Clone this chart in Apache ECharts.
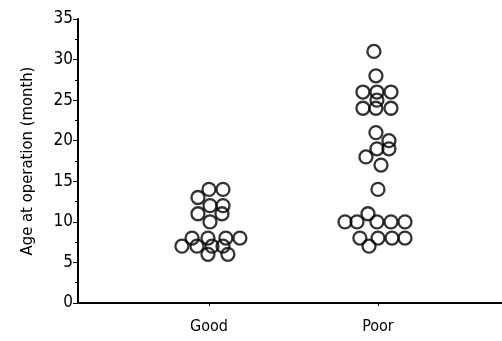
<!DOCTYPE html>
<html>
<head>
<meta charset="utf-8">
<script src="https://cdn.jsdelivr.net/npm/echarts@6/dist/echarts.min.js"></script>
<style>html,body{margin:0;padding:0;background:#fff}#c{width:502px;height:341px}</style>
</head>
<body>
<div id="c"></div>
<script>
var categories = ['Good', 'Poor'];
var goodValues = [14, 14, 13, 12, 12, 11, 11, 10, 8, 8, 8, 8, 7, 7, 7, 7, 6, 6];
var goodJitter = [0.0, 0.083, -0.065, 0.006, 0.083, -0.065, 0.077, 0.006, -0.10, -0.006, 0.100, 0.183, -0.16, -0.071, 0.018, 0.083, -0.006, 0.112];
var poorValues = [31, 28, 26, 26, 26, 25, 24, 24, 24, 21, 20, 19, 19, 18, 17, 14, 11, 10, 10, 10, 10, 10, 8, 8, 8, 8, 7];
var poorJitter = [-0.024, -0.012, -0.089, -0.006, 0.077, -0.006, -0.089, -0.012, 0.077, -0.012, 0.065, -0.006, 0.065, -0.071, 0.018, 0.0, -0.059, -0.195, -0.124, -0.006, 0.077, 0.160, -0.107, 0.0, 0.083, 0.160, -0.053];
var yTicks = [0, 5, 10, 15, 20, 25, 30, 35];

function build(vals, jit, pos) {
  return vals.map(function (v, i) { return [pos + jit[i], v]; });
}
var font = '"DejaVu Sans Condensed", "Liberation Sans Narrow", sans-serif';
var chart = echarts.init(document.getElementById('c'), null, {renderer: 'canvas'});
chart.setOption({
  animation: false,
  backgroundColor: '#fff',
  grid: {left: 78, right: 0, top: 19, bottom: 38},
  xAxis: {
    type: 'value', min: 0.225, max: 2.734,
    splitLine: {show: false},
    axisLine: {onZero: false, lineStyle: {color: '#000', width: 2}},
    axisTick: {show: true, length: 3, customValues: [1, 2], lineStyle: {color: '#000', width: 1}},
    axisLabel: {customValues: [1, 2], color: '#000', fontSize: 16, fontFamily: font, margin: 16,
      formatter: function (v) { return categories[Math.round(v) - 1] || ''; }}
  },
  yAxis: {
    type: 'value', min: 0, max: 35, interval: 5,
    name: 'Age at operation (month)', nameLocation: 'middle', nameGap: 42,
    nameTextStyle: {color: '#000', fontSize: 16.5, fontFamily: font},
    splitLine: {show: false},
    axisLine: {show: true, lineStyle: {color: '#000', width: 2}},
    axisTick: {show: true, length: 5, lineStyle: {color: '#000', width: 1}},
    minorTick: {show: true, splitNumber: 2, length: 3, lineStyle: {color: '#000', width: 1}},
    axisLabel: {color: '#000', fontSize: 17, fontFamily: font, margin: 5,
      formatter: function (v) { return yTicks.indexOf(v) >= 0 ? String(v) : ''; }}
  },
  series: [
    {type: 'scatter', name: categories[0], data: build(goodValues, goodJitter, 1), symbol: 'circle', symbolSize: 13,
     itemStyle: {color: 'rgba(0,0,0,0)', borderColor: '#000', borderWidth: 2.3}},
    {type: 'scatter', name: categories[1], data: build(poorValues, poorJitter, 2), symbol: 'circle', symbolSize: 13,
     itemStyle: {color: 'rgba(0,0,0,0)', borderColor: '#000', borderWidth: 2.3}}
  ]
});
</script>
</body>
</html>
